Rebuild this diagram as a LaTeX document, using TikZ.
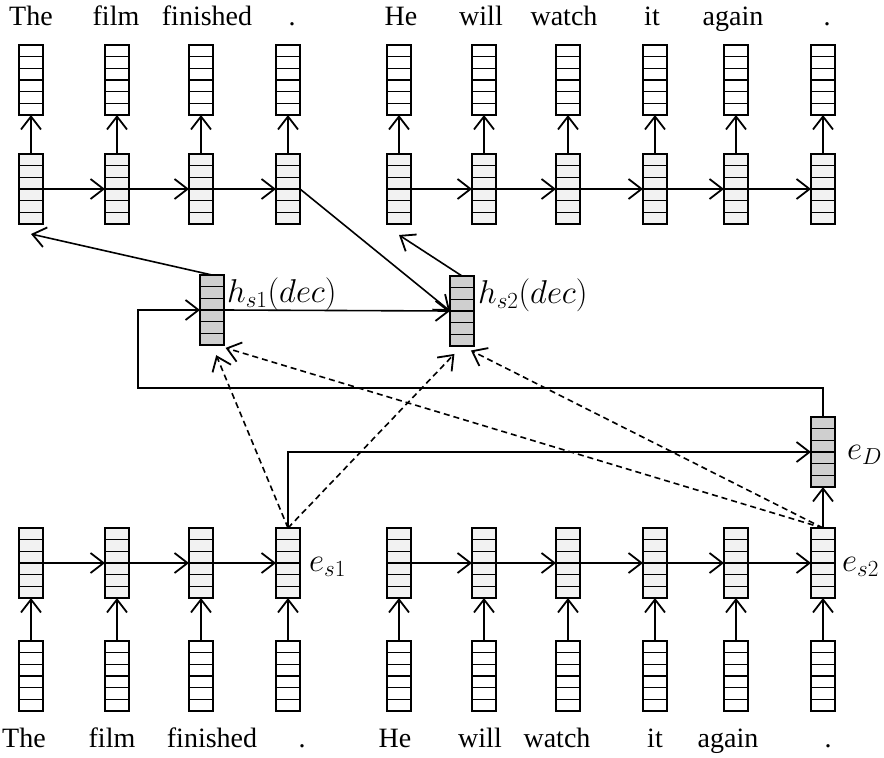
\RequirePackage{fix-cm}
\documentclass[tikz,border=0pt]{standalone}
\usepackage{fontspec}
\setmainfont{Liberation Serif}
\usetikzlibrary{arrows.meta,calc}

\tikzset{
  cellvec/.style={draw, line width=1.8pt, minimum width=24pt, minimum height=70pt,
    inner sep=0pt, outer sep=0pt,
    path picture={\foreach \k in {1,...,5}
      \draw[line width=1.3pt] ($(path picture bounding box.south west)!\k/6!(path picture bounding box.north west)$)
        -- ($(path picture bounding box.south east)!\k/6!(path picture bounding box.north east)$);}},
  wordvec/.style={cellvec, fill=white},
  hidvec/.style={cellvec, fill=gray!10},
  sentvec/.style={cellvec, fill=gray!38},
  arr/.style={line width=1.6pt, -{Straight Barb[length=13pt,width=20pt,line width=1.8pt]}},
  dasharr/.style={arr, dash pattern=on 6pt off 4pt},
  word/.style={font=\fontsize{28}{34}\selectfont, anchor=base, inner sep=0pt},
  lbl/.style={font=\fontsize{33}{40}\selectfont, inner sep=0pt},
}

\begin{document}
\begin{tikzpicture}[x=1pt, y=-1pt]
    \useasboundingbox (0,0) rectangle (884,758);
    % vectors (top: decoder, bottom: encoder)
    \foreach \x [count=\i] in {31,117,201,288,399,484,568,655,736,823} {
        \node[wordvec] (tw\i) at (\x,80) {};
        \node[hidvec] (th\i) at (\x,189) {};
        \node[hidvec] (bh\i) at (\x,563) {};
        \node[wordvec] (bw\i) at (\x,676) {};
        \draw[arr] (th\i.north) -- (tw\i.south);
        \draw[arr] (bw\i.north) -- (bh\i.south);
    }
    % recurrent links
    \foreach \i/\j in {1/2,2/3,3/4,5/6,6/7,7/8,8/9,9/10} {
        \draw[arr] (th\i.east) -- (th\j.west);
        \draw[arr] (bh\i.east) -- (bh\j.west);
    }
    % words
    \foreach \x/\w [count=\i] in {31/The,116/film,207/finished,292/.,401/He,481/will,564/watch,652/it,733/again,827/.}
        \node[word] (tt\i) at (\x,25) {\w};
    \foreach \x/\w [count=\i] in {24/The,112/film,212/finished,302/.,395/He,480/will,557/watch,655/it,728/again,828/.}
        \node[word] (bt\i) at (\x,747) {\w};
    % sentence and document vectors
    \node[sentvec] (h1) at (212,310) {};
    \node[sentvec] (h2) at (462,311) {};
    \node[sentvec] (eD) at (823,452) {};
    \node[lbl, anchor=west] (h1lab) at ([xshift=3pt,yshift=16pt]h1.east) {$h_{s1}(dec)$};
    \node[lbl, anchor=west] (h2lab) at ([xshift=4pt,yshift=16pt]h2.east) {$h_{s2}(dec)$};
    \node[lbl, anchor=west] (eDlab) at ([xshift=12pt,yshift=-3pt]eD.east) {$e_D$};
    \node[lbl, anchor=west] (es1lab) at ([xshift=9pt,yshift=-4pt]bh4.east) {$e_{s1}$};
    \node[lbl, anchor=west] (es2lab) at ([xshift=7pt,yshift=-4pt]bh10.east) {$e_{s2}$};
    % document encoding
    \draw[arr] (bh4.north) |- (eD.west);
    \draw[arr] (bh10.north) -- (eD.south);
    \coordinate (back) at (138,388);
    \draw[arr] (eD.north) |- (back) |- (h1.west);
    % decoder links
    \draw[arr] (h1.east) -- (h2.west);
    \draw[arr] (th4.east) -- (h2.west);
    \draw[arr] (h1.north) -- ([yshift=-10pt]th1.south);
    \draw[arr] (h2.north) -- ([yshift=-11pt]th5.south);
    % attention
    \draw[dasharr, shorten >=11pt] (bh4.north) -- (h1.south);
    \draw[dasharr, shorten >=11pt] (bh4.north) -- (h2.south);
    \draw[dasharr, shorten >=10pt] (bh10.north) -- ([xshift=4pt]h1.south);
    \draw[dasharr, shorten >=10pt] (bh10.north) -- (h2.south);
\end{tikzpicture}
\end{document}
